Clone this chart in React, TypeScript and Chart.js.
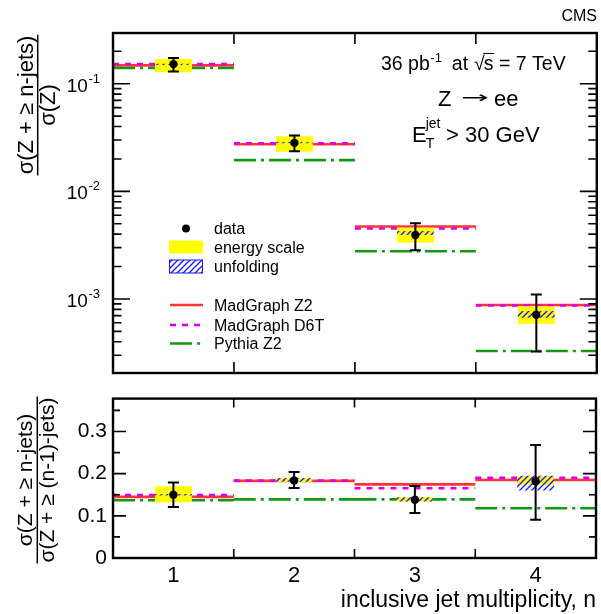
import React, { useEffect, useRef } from 'react';
import { Chart, registerables } from 'chart.js';

Chart.register(...registerables);

const FONT = '"Liberation Sans", Arial, Helvetica, sans-serif';

// ---------------- data ----------------
const bins = [1, 2, 3, 4];
const xTickLabels = ['1', '2', '3', '4'];
const binEdges = [1.5, 2.5, 3.5];
const xMin = 0.5;
const xMax = 4.5;

// upper panel: sigma(Z + >= n jets) / sigma(Z)
const topData = [0.152, 0.0282, 0.00392, 0.000711];
const topErrLow = [0.13, 0.0236, 0.00284, 0.000325];
const topErrHigh = [0.173, 0.033, 0.00506, 0.0011];
const topEnergyLow = [0.128, 0.0233, 0.00335, 0.000588];
const topEnergyHigh = [0.17, 0.0325, 0.00461, 0.000855];
const topUnfoldLow = [0.1495, 0.0279, 0.00392, 0.000667];
const topUnfoldHigh = [0.1535, 0.0288, 0.00427, 0.000774];
const topMadGraphZ2 = [0.148, 0.0274, 0.00471, 0.000879];
const topMadGraphD6T = [0.152, 0.0279, 0.00452, 0.00087];
const topPythiaZ2 = [0.14, 0.0195, 0.00277, 0.000328];
const topYExponents = [-1, -2, -3];
const topYMin = 2.05e-4;
const topYMax = 0.296;

// lower panel: sigma(Z + >= n jets) / sigma(Z + >= (n-1) jets)
const botData = [0.15, 0.184, 0.138, 0.182];
const botErrLow = [0.121, 0.166, 0.107, 0.091];
const botErrHigh = [0.179, 0.204, 0.171, 0.268];
const botEnergyLow = [0.132, 0.18, 0.134, 0.1745];
const botEnergyHigh = [0.17, 0.189, 0.144, 0.193];
const botUnfoldLow = [0.1485, 0.181, 0.134, 0.16];
const botUnfoldHigh = [0.1515, 0.19, 0.144, 0.195];
const botMadGraphZ2 = [0.145, 0.183, 0.1745, 0.185];
const botMadGraphD6T = [0.149, 0.1835, 0.1655, 0.19];
const botPythiaZ2 = [0.137, 0.139, 0.139, 0.118];
const botYTicks = [0, 0.1, 0.2, 0.3];
const botYMinorStep = 0.05;
const botYMin = 0;
const botYMax = 0.378;

const legendLabels = ['data', 'energy scale', 'unfolding', 'MadGraph Z2', 'MadGraph D6T', 'Pythia Z2'];
const topYTitle = ['σ(Z + ≥ n-jets)', 'σ(Z)'];
const botYTitle = ['σ(Z + ≥ n-jets)', 'σ(Z + ≥ (n-1)-jets)'];
const xTitle = 'inclusive jet multiplicity, n';

// ---------------- styles ----------------
const RED = '#ff3535';
const MAGENTA = '#dd00e6';
const GREEN = '#119a11';
const YELLOW = '#ffff00';
const BLUE = '#1616ff';
const BOX_FRACTION = 0.61; // of the 0.5-unit tick ruler

function makeHatch(): any {
  const c = document.createElement('canvas');
  const s = 6;
  c.width = s;
  c.height = s;
  const g = c.getContext('2d')!;
  g.strokeStyle = BLUE;
  g.lineWidth = 1.3;
  g.beginPath();
  g.moveTo(-1, s + 1);
  g.lineTo(s + 1, -1);
  g.moveTo(-1, 1);
  g.lineTo(1, -1);
  g.moveTo(s - 1, s + 1);
  g.lineTo(s + 1, s - 1);
  g.stroke();
  return g.createPattern(c, 'repeat');
}

const stepPoints = (vals: number[]) => {
  const pts: any[] = [];
  vals.forEach((v, i) => {
    pts.push({ x: bins[i] - 0.5, y: v }, { x: bins[i] + 0.5, y: v }, { x: bins[i] + 0.5, y: null });
  });
  return pts;
};

function buildDatasets(p: any, hatch: any) {
  return [
    {
      type: 'line',
      label: legendLabels[0],
      data: bins.map((b, i) => ({ x: b, y: p.data[i] })),
      showLine: false,
      pointRadius: 4.2,
      pointHoverRadius: 4.2,
      pointBackgroundColor: '#000',
      pointBorderWidth: 0,
      order: 0,
    },
    {
      type: 'bar',
      label: legendLabels[2],
      data: bins.map((b, i) => ({ x: b, y: [p.unfLo[i], p.unfHi[i]] })),
      backgroundColor: hatch,
      borderWidth: 0,
      grouped: false,
      barPercentage: BOX_FRACTION,
      categoryPercentage: 1,
      order: 1,
    },
    {
      type: 'bar',
      label: legendLabels[1],
      data: bins.map((b, i) => ({ x: b, y: [p.enLo[i], p.enHi[i]] })),
      backgroundColor: YELLOW,
      borderWidth: 0,
      grouped: false,
      barPercentage: BOX_FRACTION,
      categoryPercentage: 1,
      order: 2,
    },
    {
      type: 'line',
      label: legendLabels[5],
      data: stepPoints(p.py),
      borderColor: GREEN,
      borderWidth: 2.6,
      borderDash: [22, 5, 3, 5],
      pointRadius: 0,
      fill: false,
      order: 3,
    },
    {
      type: 'line',
      label: legendLabels[4],
      data: stepPoints(p.d6t),
      borderColor: MAGENTA,
      borderWidth: 2.6,
      borderDash: [6, 6],
      pointRadius: 0,
      fill: false,
      order: 4,
    },
    {
      type: 'line',
      label: legendLabels[3],
      data: stepPoints(p.z2),
      borderColor: RED,
      borderWidth: 2.6,
      pointRadius: 0,
      fill: false,
      order: 5,
    },
  ];
}

const errorBars = (lo: number[], hi: number[]) => ({
  id: 'errorBars',
  beforeDatasetDraw(chart: any, args: any) {
    if (args.index !== 0) return;
    const { ctx } = chart;
    const x = chart.scales.x;
    const y = chart.scales.y;
    ctx.save();
    ctx.strokeStyle = '#000';
    ctx.lineWidth = 2;
    bins.forEach((b, i) => {
      const px = x.getPixelForValue(b);
      const y1 = y.getPixelForValue(lo[i]);
      const y2 = y.getPixelForValue(hi[i]);
      ctx.beginPath();
      ctx.moveTo(px, y1);
      ctx.lineTo(px, y2);
      ctx.moveTo(px - 5.5, y1);
      ctx.lineTo(px + 5.5, y1);
      ctx.moveTo(px - 5.5, y2);
      ctx.lineTo(px + 5.5, y2);
      ctx.stroke();
    });
    ctx.restore();
  },
});

const frame = (kind: string) => ({
  id: 'frame',
  afterDraw(chart: any) {
    const { ctx, chartArea: a } = chart;
    const x = chart.scales.x;
    const y = chart.scales.y;
    const ticks: [number, number][] = [];
    if (kind === 'top') {
      for (let e = -5; e <= 0; e++) {
        for (let k = 1; k <= 9; k++) {
          const v = k * Math.pow(10, e);
          if (v >= topYMin && v <= topYMax) ticks.push([v, k === 1 ? 17 : 8.5]);
        }
      }
    } else {
      const n = Math.floor(botYMax / botYMinorStep + 1e-6);
      for (let i = 0; i <= n; i++) {
        const v = i * botYMinorStep;
        const major = botYTicks.some((t) => Math.abs(t - v) < 1e-6);
        ticks.push([v, major ? 13 : 7]);
      }
    }
    const xl = kind === 'top' ? 11 : 9;
    ctx.save();
    ctx.strokeStyle = '#000';
    ctx.lineWidth = 1.6;
    ctx.beginPath();
    ticks.forEach(([v, len]) => {
      const py = y.getPixelForValue(v);
      ctx.moveTo(a.left, py);
      ctx.lineTo(a.left + len, py);
      ctx.moveTo(a.right, py);
      ctx.lineTo(a.right - len, py);
    });
    binEdges.forEach((e) => {
      const px = x.getPixelForValue(e);
      ctx.moveTo(px, a.top);
      ctx.lineTo(px, a.top + xl);
      ctx.moveTo(px, a.bottom);
      ctx.lineTo(px, a.bottom - xl);
    });
    ctx.stroke();
    ctx.lineWidth = 2.4;
    ctx.strokeRect(a.left, a.top, a.right - a.left, a.bottom - a.top);
    ctx.restore();
  },
});

function txt(ctx: any, s: string, x: number, y: number, size: number, align = 'left', family = FONT) {
  ctx.font = `${size}px ${family}`;
  ctx.textAlign = align;
  ctx.textBaseline = 'alphabetic';
  ctx.fillStyle = '#000';
  ctx.fillText(s, x, y);
  return ctx.measureText(s).width;
}

function drawFraction(ctx: any, lineX: number, cy: number, num: string, den: string, size: number) {
  ctx.save();
  ctx.translate(lineX, cy);
  ctx.rotate(-Math.PI / 2);
  ctx.font = `${size}px ${FONT}`;
  ctx.fillStyle = '#000';
  ctx.textAlign = 'center';
  ctx.textBaseline = 'alphabetic';
  ctx.fillText(num, 0, -5);
  ctx.fillText(den, 0, size * 0.79);
  const w = Math.max(ctx.measureText(num).width, ctx.measureText(den).width);
  ctx.strokeStyle = '#000';
  ctx.lineWidth = 1.5;
  ctx.beginPath();
  ctx.moveTo(-w / 2 - 1, 0);
  ctx.lineTo(w / 2 + 1, 0);
  ctx.stroke();
  ctx.restore();
}

const topDecor = (hatch: any) => ({
  id: 'topDecor',
  afterDraw(chart: any) {
    const { ctx } = chart;
    const y = chart.scales.y;
    ctx.save();
    // log-axis labels 10^n
    topYExponents.forEach((e) => {
      const py = y.getPixelForValue(Math.pow(10, e));
      const sw = txt(ctx, String(e), 100, py - 1, 13, 'right');
      txt(ctx, '10', 100 - sw - 0.5, py + 8, 19, 'right');
    });
    // CMS
    txt(ctx, 'CMS', 597, 21, 16, 'right');
    // 36 pb^-1 at sqrt(s) = 7 TeV
    let cx = 381;
    const bl = 70;
    cx += txt(ctx, '36 pb', cx, bl, 19.5);
    cx += 0.5;
    cx += txt(ctx, '-1', cx, bl - 8, 13);
    cx += 10;
    cx += txt(ctx, 'at', cx, bl, 19.5);
    cx += 6;
    const rw = txt(ctx, '√', cx, bl, 19.5);
    const sx = cx + rw - 1;
    const swid = txt(ctx, 's', sx, bl, 19.5);
    ctx.strokeStyle = '#000';
    ctx.lineWidth = 1;
    ctx.beginPath();
    ctx.moveTo(sx - 0.5, bl - 16.5);
    ctx.lineTo(sx + swid + 0.5, bl - 16.5);
    ctx.stroke();
    cx = sx + swid;
    txt(ctx, ' = 7 TeV', cx, bl, 19.5);
    // Z -> ee
    txt(ctx, 'Z', 438, 106, 22);
    ctx.save();
    ctx.font = `16px "DejaVu Sans"`;
    const aw = ctx.measureText('→').width || 13;
    ctx.translate(461, 103);
    ctx.scale(28 / aw, 1);
    ctx.textAlign = 'left';
    ctx.textBaseline = 'alphabetic';
    ctx.fillStyle = '#000';
    ctx.fillText('→', 0, 0);
    ctx.restore();
    txt(ctx, 'ee', 494, 106, 22);
    // E_T^jet > 30 GeV
    const ew = txt(ctx, 'E', 412, 142, 22);
    txt(ctx, 'jet', 412 + ew - 1, 128, 14);
    txt(ctx, 'T', 412 + ew - 1, 147.5, 14);
    txt(ctx, '> 30 GeV', 446, 142, 22);

    // legend
    const lx = 169;
    const lw = 34;
    const tx = 214;
    const rows = [228.5, 247, 266.5, 305, 325, 343.5];
    ctx.fillStyle = '#000';
    ctx.beginPath();
    ctx.arc(lx + lw / 2, rows[0], 4, 0, Math.PI * 2);
    ctx.fill();
    ctx.fillStyle = YELLOW;
    ctx.fillRect(lx, rows[1] - 6.5, lw, 13);
    ctx.fillStyle = hatch;
    ctx.fillRect(lx, rows[2] - 6.5, lw, 13);
    ctx.strokeStyle = BLUE;
    ctx.lineWidth = 1;
    ctx.strokeRect(lx + 0.5, rows[2] - 6.5, lw - 1, 13);
    const lineStyles: [string, number[]][] = [
      [RED, []],
      [MAGENTA, [6, 6]],
      [GREEN, [22, 5, 3, 5]],
    ];
    lineStyles.forEach(([col, dash], i) => {
      ctx.strokeStyle = col;
      ctx.lineWidth = 2.6;
      ctx.setLineDash(dash);
      ctx.beginPath();
      ctx.moveTo(lx + 1, rows[3 + i]);
      ctx.lineTo(lx + lw, rows[3 + i]);
      ctx.stroke();
    });
    ctx.setLineDash([]);
    legendLabels.forEach((l, i) => txt(ctx, l, tx, rows[i] + 5.5, 16));

    // y title
    drawFraction(ctx, 37.7, 105, topYTitle[0], topYTitle[1], 22);
    ctx.restore();
  },
});

const botDecor = {
  id: 'botDecor',
  afterDraw(chart: any) {
    drawFraction(chart.ctx, 37.3, 100, botYTitle[0], botYTitle[1], 21);
  },
};

function topConfig(hatch: any): any {
  return {
    type: 'line',
    data: {
      datasets: buildDatasets(
        {
          data: topData,
          enLo: topEnergyLow,
          enHi: topEnergyHigh,
          unfLo: topUnfoldLow,
          unfHi: topUnfoldHigh,
          z2: topMadGraphZ2,
          d6t: topMadGraphD6T,
          py: topPythiaZ2,
        },
        hatch
      ),
    },
    options: {
      responsive: false,
      animation: false,
      events: [],
      layout: { padding: { top: 33, right: 3, bottom: 7, left: 0 } },
      plugins: { legend: { display: false }, tooltip: { enabled: false } },
      scales: {
        x: {
          type: 'linear',
          min: xMin,
          max: xMax,
          offset: false,
          display: false,
          ticks: { stepSize: 0.5 },
        },
        y: {
          type: 'logarithmic',
          min: topYMin,
          max: topYMax,
          ticks: { display: false },
          grid: { display: false, drawTicks: false },
          border: { display: false },
          afterFit: (s: any) => {
            s.width = 113;
          },
        },
      },
    },
    plugins: [errorBars(topErrLow, topErrHigh), frame('top'), topDecor(hatch)],
  };
}

function botConfig(hatch: any): any {
  return {
    type: 'line',
    data: {
      datasets: buildDatasets(
        {
          data: botData,
          enLo: botEnergyLow,
          enHi: botEnergyHigh,
          unfLo: botUnfoldLow,
          unfHi: botUnfoldHigh,
          z2: botMadGraphZ2,
          d6t: botMadGraphD6T,
          py: botPythiaZ2,
        },
        hatch
      ),
    },
    options: {
      responsive: false,
      animation: false,
      events: [],
      layout: { padding: { top: 8, right: 3, bottom: 0, left: 0 } },
      plugins: { legend: { display: false }, tooltip: { enabled: false } },
      scales: {
        x: {
          type: 'linear',
          min: xMin,
          max: xMax,
          offset: false,
          ticks: {
            stepSize: 0.5,
            autoSkip: false,
            maxRotation: 0,
            minRotation: 0,
            padding: 5,
            color: '#000',
            font: { family: FONT, size: 22 },
            callback: (v: any) => {
              const i = bins.findIndex((b) => Math.abs(b - Number(v)) < 1e-6);
              return i >= 0 ? xTickLabels[i] : '';
            },
          },
          grid: { display: false, drawTicks: false },
          border: { display: false },
          title: {
            display: true,
            text: xTitle,
            align: 'end',
            color: '#000',
            font: { family: FONT, size: 23 },
            padding: { top: 0, bottom: 0 },
          },
          afterFit: (s: any) => {
            s.height = 56;
          },
        },
        y: {
          type: 'linear',
          min: botYMin,
          max: botYMax,
          ticks: {
            stepSize: 0.1,
            autoSkip: false,
            padding: 6,
            color: '#000',
            font: { family: FONT, size: 21 },
            callback: (v: any) => {
              const t = botYTicks.find((tt) => Math.abs(tt - Number(v)) < 1e-6);
              return t === undefined ? '' : String(t);
            },
          },
          grid: { display: false, drawTicks: false },
          border: { display: false },
          afterFit: (s: any) => {
            s.width = 113;
          },
        },
      },
    },
    plugins: [errorBars(botErrLow, botErrHigh), frame('bottom'), botDecor],
  };
}

export default function App() {
  const topRef = useRef<HTMLCanvasElement>(null);
  const botRef = useRef<HTMLCanvasElement>(null);
  useEffect(() => {
    Chart.defaults.font.family = FONT;
    const hatch = makeHatch();
    const top = new Chart(topRef.current!, topConfig(hatch));
    const bot = new Chart(botRef.current!, botConfig(hatch));
    return () => {
      top.destroy();
      bot.destroy();
    };
  }, []);
  return (
    <div style={{ position: 'absolute', left: 0, top: 0, width: 601, height: 614, background: '#fff' }}>
      <canvas
        ref={topRef}
        width={601}
        height={380}
        style={{ position: 'absolute', left: 0, top: 0, width: 601, height: 380 }}
      />
      <canvas
        ref={botRef}
        width={601}
        height={234}
        style={{ position: 'absolute', left: 0, top: 380, width: 601, height: 234 }}
      />
    </div>
  );
}
